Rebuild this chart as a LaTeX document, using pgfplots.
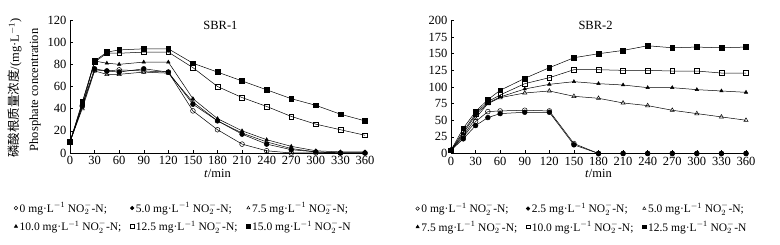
\documentclass[border=0pt]{standalone}
\usepackage{pgfplots}
\pgfplotsset{compat=1.18}
\usepackage{fontspec}
\setmainfont{Liberation Serif}
\newfontfamily\cjk{Noto Sans CJK SC}
\newcommand{\nit}{mg·L\textsuperscript{$-$1}~NO$_{2}^{-}$-N}
\pgfplotsset{
  myax/.style={
    scale only axis, width=295pt, height=133pt,
    axis x line*=bottom, axis y line*=left,
    xmin=0, xmax=360, xtick={0,30,...,360},
    tick align=inside, major tick length=3pt,
    tick style={black, line width=0.5pt},
    axis line style={black, line width=0.6pt},
    ticklabel style={font=\fontsize{12.5}{13}\selectfont},
    /pgf/number format/assume math mode=true,
    xlabel={\textit{t}/min},
    xlabel style={font=\fontsize{12.5}{13}\selectfont, yshift=3pt},
    clip=false,
    every axis plot/.append style={black, line width=0.5pt, mark size=2.4pt},
    legend style={draw=none, fill=none, inner sep=0pt, anchor=north west,
      font=\fontsize{11.5}{12}\selectfont,
      /tikz/every even column/.append style={column sep=7pt},
      row sep=3pt},
    legend columns=3, legend cell align=left,
    legend image code/.code={\draw[only marks, mark repeat=2, mark phase=2] plot coordinates {(0pt,0pt)(3pt,0pt)(6pt,0pt)};},
    legend image post style={mark size=1.8pt},
  }
}
\begin{document}
\begin{tikzpicture}[x=1pt,y=1pt]
\useasboundingbox (0,0) rectangle (780,245);
\begin{axis}[myax, at={(70pt,92pt)}, anchor=south west,
  ymin=0, ymax=120, ytick={0,20,...,120},
  legend style={at={(-0.19,-0.355)}}]
\addplot[mark=o, mark options={fill=white}] coordinates {(0,10)(15,42)(30,75)(45,74)(60,75)(90,74)(120,73)(150,38)(180,21)(210,8)(240,2)(270,0)(300,0)(330,0)(360,0)};
\addlegendentry{0 \nit;}
\addplot[mark=*] coordinates {(0,10)(15,43)(30,76)(45,74)(60,73)(90,76)(120,73)(150,44)(180,29)(210,17)(240,8)(270,3)(300,1)(330,0)(360,0)};
\addlegendentry{5.0 \nit;}
\addplot[mark=triangle, mark options={fill=white}] coordinates {(0,10)(15,40)(30,74)(45,71)(60,71)(90,73)(120,72)(150,46)(180,29)(210,18)(240,10)(270,4)(300,1)(330,0)(360,0)};
\addlegendentry{7.5 \nit;}
\addplot[mark=triangle*, mark size=2pt] coordinates {(0,10)(15,42)(30,83)(45,81)(60,80)(90,82)(120,82)(150,49)(180,31)(210,20)(240,12)(270,6)(300,2)(330,1)(360,1)};
\addlegendentry{10.0 \nit;}
\addplot[mark=square, mark options={fill=white}] coordinates {(0,10)(15,46)(30,82)(45,90)(60,90)(90,91)(120,91)(150,77)(180,60)(210,50)(240,42)(270,33)(300,26)(330,21)(360,16)};
\addlegendentry{12.5 \nit;}
\addplot[mark=square*] coordinates {(0,10)(15,45)(30,83)(45,91)(60,93)(90,94)(120,94)(150,81)(180,73)(210,65)(240,57)(270,49)(300,43)(330,35)(360,29)};
\addlegendentry{15.0 \nit}
\node[font=\fontsize{12.5}{13}\selectfont] at (axis description cs:0.51,0.96) {SBR-1};
\end{axis}
\node[rotate=90, font=\fontsize{12.5}{13}\selectfont] at (15,157) {{\cjk 磷酸根质量浓度}/(mg·L\textsuperscript{$-$1})};
\node[rotate=90, font=\fontsize{12.5}{13}\selectfont] at (35,155) {Phosphate concentration};
\begin{axis}[myax, at={(451pt,91.5pt)}, anchor=south west,
  ymin=0, ymax=200, ytick={0,25,...,200},
  legend style={at={(-0.12,-0.355)}}]
\addplot[mark=o, mark options={fill=white}] coordinates {(0,5)(15,25)(30,48)(45,63)(60,64)(90,65)(120,64)(150,15)(180,0)(210,0)(240,0)(270,0)(300,0)(330,0)(360,0)};
\addlegendentry{0 \nit;}
\addplot[mark=*] coordinates {(0,5)(15,22)(30,42)(45,54)(60,60)(90,62)(120,62)(150,13)(180,0)(210,0)(240,0)(270,0)(300,0)(330,0)(360,0)};
\addlegendentry{2.5 \nit;}
\addplot[mark=triangle, mark options={fill=white}] coordinates {(0,5)(15,27)(30,53)(45,75)(60,84)(90,91)(120,94)(150,86)(180,83)(210,76)(240,72)(270,65)(300,60)(330,55)(360,50)};
\addlegendentry{5.0 \nit;}
\addplot[mark=triangle*, mark size=2pt] coordinates {(0,5)(15,30)(30,58)(45,76)(60,85)(90,97)(120,104)(150,108)(180,105)(210,103)(240,99)(270,99)(300,96)(330,94)(360,92)};
\addlegendentry{7.5 \nit;}
\addplot[mark=square, mark options={fill=white}] coordinates {(0,5)(15,33)(30,60)(45,78)(60,88)(90,105)(120,114)(150,126)(180,126)(210,125)(240,125)(270,124)(300,124)(330,121)(360,121)};
\addlegendentry{10.0 \nit;}
\addplot[mark=square*] coordinates {(0,5)(15,38)(30,63)(45,81)(60,95)(90,113)(120,129)(150,144)(180,150)(210,155)(240,162)(270,159)(300,160)(330,159)(360,160)};
\addlegendentry{12.5 \nit}
\node[font=\fontsize{12.5}{13}\selectfont] at (axis description cs:0.49,0.96) {SBR-2};
\end{axis}
\end{tikzpicture}
\end{document}
